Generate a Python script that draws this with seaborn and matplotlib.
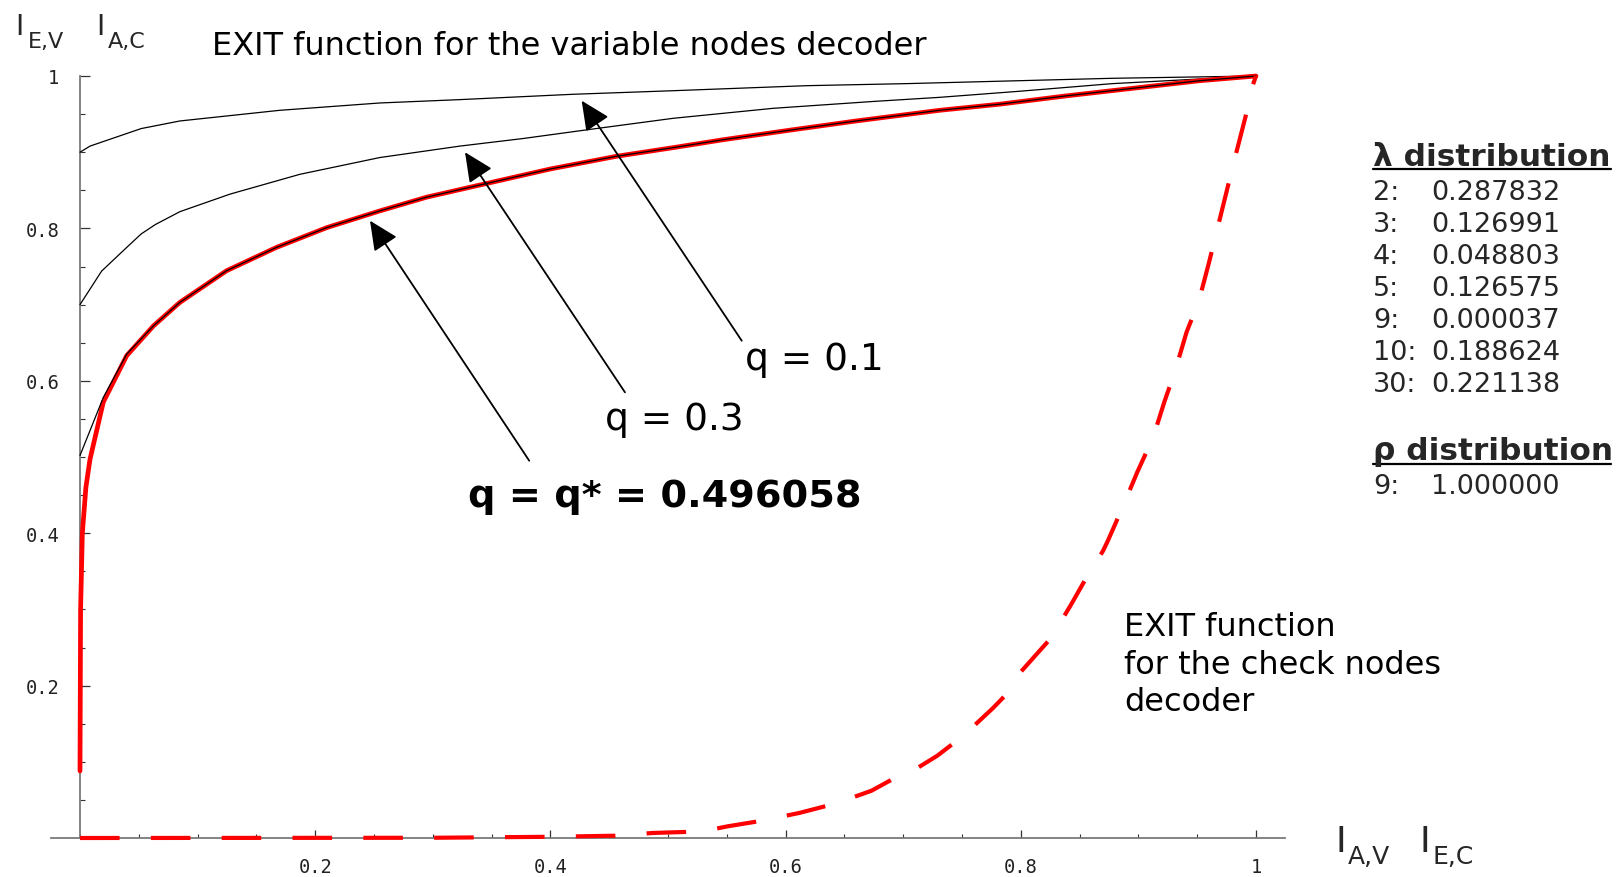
import matplotlib
matplotlib.use("Agg")
import matplotlib.pyplot as plt
from matplotlib.lines import Line2D
from matplotlib.ticker import MultipleLocator, FixedLocator
import seaborn as sns

# ---------------- data ----------------
q01_x = [0, 0.0085, 0.052, 0.085, 0.17, 0.255, 0.323, 0.419, 0.5045, 0.618, 0.703, 0.878, 1.0]
q01_y = [0.90, 0.908, 0.931, 0.941, 0.955, 0.9646, 0.969, 0.976, 0.9807, 0.9873, 0.990, 0.997, 1.0]

q03_x = [0, 0.0184, 0.0397, 0.052, 0.064, 0.085, 0.1276, 0.187, 0.255, 0.323, 0.377, 0.434,
         0.5045, 0.5895, 0.6746, 0.731, 0.799, 0.878, 1.0]
q03_y = [0.70, 0.744, 0.775, 0.7927, 0.805, 0.822, 0.845, 0.871, 0.893, 0.908, 0.918, 0.930,
         0.9445, 0.9576, 0.9666, 0.972, 0.980, 0.990, 1.0]

qstar_x = [0, 0.0198, 0.0397, 0.0624, 0.085, 0.1247, 0.167, 0.2098, 0.255, 0.2948, 0.343, 0.40,
           0.456, 0.5045, 0.547, 0.604, 0.660, 0.731, 0.782, 0.839, 0.896, 0.952, 1.0]
qstar_y = [0.502, 0.578, 0.635, 0.672, 0.703, 0.7445, 0.775, 0.801, 0.823, 0.841, 0.858, 0.878,
           0.8946, 0.906, 0.9164, 0.929, 0.941, 0.955, 0.963, 0.974, 0.984, 0.9938, 1.0]

red_x = [0, 0.0005, 0.002, 0.005, 0.0085, 0.0198, 0.0397, 0.0624, 0.085, 0.1247, 0.167, 0.2098,
         0.255, 0.2948, 0.343, 0.40, 0.456, 0.5045, 0.547, 0.604, 0.660, 0.731, 0.782, 0.839,
         0.896, 0.952, 1.0]
red_y = [0.088, 0.30, 0.40, 0.46, 0.497, 0.572, 0.633, 0.672, 0.703, 0.7445, 0.775, 0.801,
         0.823, 0.841, 0.858, 0.878, 0.8946, 0.906, 0.9164, 0.929, 0.941, 0.955, 0.963, 0.974,
         0.984, 0.9938, 1.0]

check_x = [0, 0.30, 0.40, 0.455, 0.487, 0.516, 0.54, 0.551, 0.58, 0.612, 0.642, 0.673, 0.699,
           0.708, 0.729, 0.751, 0.776, 0.788, 0.80, 0.826, 0.843, 0.857, 0.870, 0.874, 0.886,
           0.899, 0.912, 0.913, 0.922, 0.931, 0.941, 0.952, 0.953, 0.960, 0.982, 0.991, 0.9975, 1.0]
check_y = [0, 0.0003, 0.0016, 0.003, 0.0066, 0.008, 0.012, 0.0154, 0.0227, 0.033, 0.045, 0.062,
           0.084, 0.088, 0.108, 0.134, 0.170, 0.189, 0.218, 0.263, 0.307, 0.345, 0.377, 0.390,
           0.432, 0.480, 0.524, 0.528, 0.572, 0.612, 0.664, 0.707, 0.714, 0.755, 0.892, 0.946,
           0.989, 1.0]

x_ticks = [0.2, 0.4, 0.6, 0.8, 1.0]
x_tick_labels = ["0.2", "0.4", "0.6", "0.8", "1"]
y_ticks = [0.2, 0.4, 0.6, 0.8, 1.0]
y_tick_labels = ["0.2", "0.4", "0.6", "0.8", "1"]

lambda_degrees = ["2:", "3:", "4:", "5:", "9:", "10:", "30:"]
lambda_values = ["0.287832", "0.126991", "0.048803", "0.126575", "0.000037", "0.188624", "0.221138"]
rho_degrees = ["9:"]
rho_values = ["1.000000"]

# ---------------- figure ----------------
sns.set_theme(style="white")
plt.rcParams["font.family"] = ["DejaVu Sans"]

W, H = 1619, 878
fig = plt.figure(figsize=(W / 100, H / 100), dpi=100)
fig.patch.set_facecolor("white")

# axes geometry: data x 0 -> px 80, x 1 -> px 1256 ; y 0 -> px 839, y 1 -> px 77
X0, XS = 80.0, 1176.0
Y0, YS = 839.0, 762.0
xlo, xhi = -0.025, 1.025
ax = fig.add_axes([(X0 + xlo * XS) / W, (H - Y0) / H, (xhi - xlo) * XS / W, YS / H])
ax.set_xlim(xlo, xhi)
ax.set_ylim(0, 1)
ax.set_facecolor("white")

def fx(px):
    return px / W

def fy(py):
    return 1 - py / H

# curves
sns.lineplot(x=q01_x, y=q01_y, ax=ax, color="black", lw=0.9, sort=False, estimator=None)
sns.lineplot(x=q03_x, y=q03_y, ax=ax, color="black", lw=0.9, sort=False, estimator=None)
sns.lineplot(x=red_x, y=red_y, ax=ax, color="#ff0000", lw=3.4, sort=False, estimator=None)
sns.lineplot(x=qstar_x, y=qstar_y, ax=ax, color="black", lw=0.9, sort=False, estimator=None)
sns.lineplot(x=check_x, y=check_y, ax=ax, color="#ff0000", lw=3.0, sort=False, estimator=None)
chk = ax.lines[-1]
chk.set_dashes([9.5, 7.5])
chk.set_dash_capstyle("butt")
for ln in ax.lines:
    ln.set_clip_on(False)
ax.lines[2].set_zorder(3)
ax.lines[3].set_zorder(4)
chk.set_zorder(5)

# spines in Mathematica style (axes crossing at the origin)
for s in ["top", "right"]:
    ax.spines[s].set_visible(False)
ax.spines["left"].set_position(("data", 0))
ax.spines["bottom"].set_position(("data", 0))
ax.spines["left"].set_bounds(0, 1)
for s in ["left", "bottom"]:
    ax.spines[s].set_color("#7a7a7a")
    ax.spines[s].set_linewidth(1.3)
    ax.spines[s].set_zorder(1)

ax.xaxis.set_major_locator(FixedLocator(x_ticks))
ax.yaxis.set_major_locator(FixedLocator(y_ticks))
ax.set_xticklabels(x_tick_labels)
ax.set_yticklabels(y_tick_labels)
ax.xaxis.set_minor_locator(MultipleLocator(0.05))
ax.yaxis.set_minor_locator(MultipleLocator(0.05))
ax.tick_params(axis="x", which="major", direction="in", length=5.5, width=0.9, color="#333333",
               pad=14, labelsize=13.5, bottom=True)
ax.tick_params(axis="x", which="minor", direction="in", length=3.2, width=0.8, color="#333333",
               bottom=True)
ax.tick_params(axis="y", which="major", direction="in", length=7, width=0.9, color="#333333",
               pad=15, labelsize=13.5, left=True)
ax.tick_params(axis="y", which="minor", direction="in", length=3.6, width=0.8, color="#333333",
               left=True)
for lab in ax.get_xticklabels() + ax.get_yticklabels():
    lab.set_fontfamily("DejaVu Sans Mono")
    lab.set_color("#222222")
ax.grid(False)

# arrows + labels
arrow_kw = dict(arrowstyle="-|>,head_length=0.6,head_width=0.28", color="black", lw=1.3,
                mutation_scale=30, shrinkA=0, shrinkB=0)
ax.annotate("", xy=(0.4266, 0.9676), xytext=(0.5627, 0.6526), arrowprops=arrow_kw, zorder=6)
ax.annotate("", xy=(0.3274, 0.8999), xytext=(0.4634, 0.5849), arrowprops=arrow_kw, zorder=6)
ax.annotate("", xy=(0.2466, 0.8101), xytext=(0.3820, 0.4951), arrowprops=arrow_kw, zorder=6)

ax.text(0.5655, 0.6155, "q = 0.1", fontsize=27, ha="left", va="baseline", color="black")
ax.text(0.4464, 0.5367, "q = 0.3", fontsize=27, ha="left", va="baseline", color="black")
ax.text(0.330, 0.436, "q = q* = 0.496058", fontsize=27.5, fontweight="bold", ha="left",
        va="baseline", color="black")

# titles / axis labels
fig.text(fx(212), fy(55), "EXIT function for the variable nodes decoder", fontsize=23,
         ha="left", va="baseline", color="black")

fig.text(fx(15), fy(35), "I", fontsize=20.5, ha="left", va="baseline")
fig.text(fx(28), fy(48), "E,V", fontsize=16, ha="left", va="baseline")
fig.text(fx(96), fy(35), "I", fontsize=20.5, ha="left", va="baseline")
fig.text(fx(108), fy(48), "A,C", fontsize=16, ha="left", va="baseline")

fig.text(fx(1335), fy(852), "I", fontsize=26, ha="left", va="baseline")
fig.text(fx(1348), fy(864), "A,V", fontsize=18, ha="left", va="baseline")
fig.text(fx(1419), fy(852), "I", fontsize=26, ha="left", va="baseline")
fig.text(fx(1432), fy(864), "E,C", fontsize=18, ha="left", va="baseline")

fig.text(fx(1124), fy(711), "EXIT function\nfor the check nodes\ndecoder", fontsize=23,
         ha="left", va="baseline", linespacing=1.265, color="black")

# degree distributions
LX, VX = 1373, 1431
fig.text(fx(LX), fy(166), "λ distribution", fontsize=22.5, fontweight="bold", ha="left",
         va="baseline")
fig.add_artist(Line2D([fx(LX), fx(1611)], [fy(170), fy(170)], color="black", lw=1.6,
                      transform=fig.transFigure))
row_base = [200, 232, 264, 296, 328, 360, 392]
for d, v, yb in zip(lambda_degrees, lambda_values, row_base):
    fig.text(fx(LX), fy(yb), d, fontsize=19.5, ha="left", va="baseline")
    fig.text(fx(VX), fy(yb), v, fontsize=19.5, ha="left", va="baseline")
fig.text(fx(LX), fy(460), "ρ distribution", fontsize=22.5, fontweight="bold", ha="left",
         va="baseline")
fig.add_artist(Line2D([fx(LX), fx(1611)], [fy(465), fy(465)], color="black", lw=1.6,
                      transform=fig.transFigure))
for d, v in zip(rho_degrees, rho_values):
    fig.text(fx(LX), fy(494), d, fontsize=19.5, ha="left", va="baseline")
    fig.text(fx(VX), fy(494), v, fontsize=19.5, ha="left", va="baseline")

fig.savefig("out.png", dpi=100, facecolor="white")
